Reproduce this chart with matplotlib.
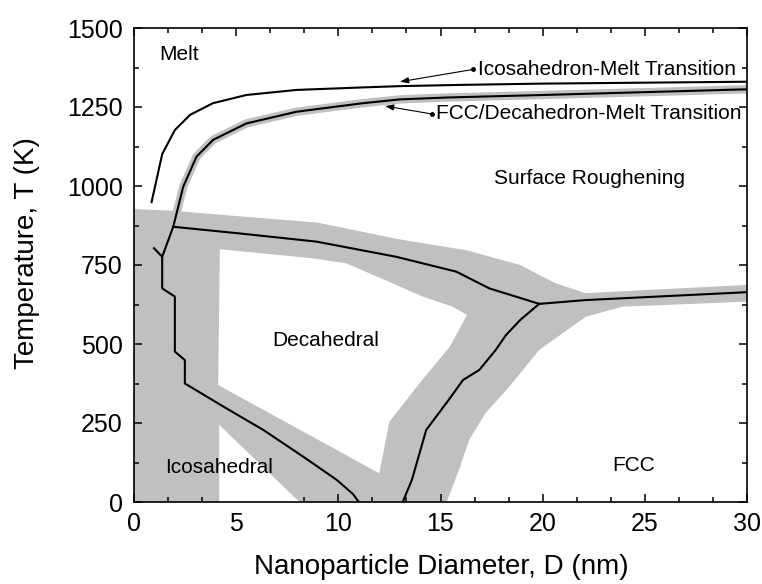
import matplotlib
matplotlib.use("Agg")
import matplotlib.pyplot as plt
from matplotlib.ticker import AutoMinorLocator

plt.rcParams['font.family'] = ['Liberation Sans', 'DejaVu Sans']

# ---------------- data (D in nm, T in K) ----------------
# Icosahedron-melt transition
ico_melt_D = [0.86, 1.38, 2.0, 2.74, 3.86, 5.5, 7.95, 11.2, 13.0, 16.0, 20.0, 25.0, 30.0]
ico_melt_T = [949, 1101, 1177, 1225, 1262, 1288, 1304, 1312, 1316, 1320, 1324, 1327, 1330]

# FCC/Decahedron-melt transition (continues down to the triple point)
fcc_melt_D = [1.38, 1.92, 2.41, 3.06, 3.87, 5.5, 7.95, 11.2, 13.0, 15.3, 20.0, 25.0, 30.0]
fcc_melt_T = [776, 871, 998, 1093, 1146, 1198, 1235, 1262, 1274, 1280, 1288, 1297, 1306]

# Icosahedral / Decahedral boundary
ico_dec_D = [0.98, 1.38, 1.38, 2.0, 2.0, 2.49, 2.49, 4.53, 6.33, 8.29, 9.92, 10.72, 11.0]
ico_dec_T = [803, 776, 676, 650, 476, 449, 375, 296, 228, 143, 70, 25, 0]

# Decahedral / Surface roughening boundary
dec_sr_D = [1.92, 5.0, 8.93, 12.83, 15.77, 17.39, 19.83]
dec_sr_T = [871, 851, 824, 776, 729, 676, 627]

# Decahedral / FCC boundary
dec_fcc_D = [13.15, 13.6, 14.3, 15.4, 16.1, 16.9, 17.7, 18.2, 18.9, 19.83]
dec_fcc_T = [0, 70, 228, 323, 386, 418, 481, 528, 576, 627]

# FCC / Surface roughening boundary
fcc_sr_D = [19.83, 22.1, 30.0]
fcc_sr_T = [627, 639, 664]

# Uncertainty (gray) region outline
gray_D = [0, 1.8, 5.0, 9.0, 13.0, 16.25, 18.9, 20.6, 22.1, 30.0, 30.0, 23.9, 22.1,
          19.83, 18.37, 17.2, 16.4, 15.9, 15.3, 0]
gray_T = [927, 922, 905, 884, 831, 797, 750, 693, 661, 687, 634, 618, 586,
          481, 365, 281, 196, 101, 0, 0]

# White (certain) decahedral area inside gray region
dec_white_D = [4.2, 4.12, 12.0, 12.5, 14.1, 15.45, 16.3, 15.6, 14.13, 12.83, 10.4, 8.76]
dec_white_T = [800, 370, 91, 254, 386, 491, 592, 618, 650, 687, 755, 771]

# White (certain) icosahedral area inside gray region
ico_white_D = [4.17, 4.17, 8.1]
ico_white_T = [0, 244, 0]

region_labels = ["Melt", "Surface Roughening", "Decahedral", "Icosahedral", "FCC"]
region_D = [1.22, 22.27, 9.39, 4.17, 24.47]
region_T = [1416, 1025, 510, 110, 117]
region_ha = ["left", "center", "center", "center", "center"]

ann_texts = ["Icosahedron-Melt Transition", "FCC/Decahedron-Melt Transition"]
ann_tail_D = [16.61, 14.57]
ann_tail_T = [1369, 1228]
ann_head_D = [13.02, 12.29]
ann_head_T = [1330, 1253]

x_ticks = [0, 5, 10, 15, 20, 25, 30]
y_ticks = [0, 250, 500, 750, 1000, 1250, 1500]

# ---------------- figure ----------------
fig = plt.figure(figsize=(7.62, 5.84), dpi=100)
ax = fig.add_axes([134 / 762, 1 - 502 / 584, (747 - 134) / 762, (502 - 28) / 584])

gray = '#c0c0c0'
ax.fill(gray_D, gray_T, color=gray, lw=0, zorder=1)
ax.fill(dec_white_D, dec_white_T, color='white', lw=0, zorder=2)
ax.fill(ico_white_D, ico_white_T, color='white', lw=0, zorder=2)
ax.plot(fcc_melt_D, fcc_melt_T, color=gray, lw=6, solid_capstyle='butt', zorder=2.5)

lines = [(ico_melt_D, ico_melt_T), (fcc_melt_D, fcc_melt_T), (ico_dec_D, ico_dec_T),
         (dec_sr_D, dec_sr_T), (dec_fcc_D, dec_fcc_T), (fcc_sr_D, fcc_sr_T)]
for d, t in lines:
    ax.plot(d, t, color='black', lw=1.5, zorder=3, solid_joinstyle='round')

for lab, d, t, ha in zip(region_labels, region_D, region_T, region_ha):
    ax.text(d, t, lab, fontsize=15, ha=ha, va='center', zorder=5)

for txt, td, tt, hd, ht in zip(ann_texts, ann_tail_D, ann_tail_T, ann_head_D, ann_head_T):
    ax.annotate('', xy=(hd, ht), xytext=(td, tt),
                arrowprops=dict(arrowstyle='-|>,head_length=0.5,head_width=0.18',
                                color='black', lw=0.8, shrinkA=0, shrinkB=0), zorder=5)
    ax.plot([td], [tt], 'o', color='black', ms=2.5, zorder=5)
    ax.text(td + 0.22, tt, txt, fontsize=15, ha='left', va='center', zorder=5)

ax.set_xlim(0, 30)
ax.set_ylim(0, 1500)
ax.set_xticks(x_ticks)
ax.set_yticks(y_ticks)
ax.xaxis.set_minor_locator(AutoMinorLocator(3))
ax.yaxis.set_minor_locator(AutoMinorLocator(2))
ax.tick_params(which='both', direction='in', top=True, right=True, width=1.1)
ax.tick_params(which='major', length=6, labelsize=18)
ax.tick_params(axis='y', which='major', pad=8)
ax.tick_params(axis='x', which='major', pad=7)
ax.tick_params(which='minor', length=3.5)
for s in ax.spines.values():
    s.set_linewidth(1.2)

fig.text(441 / 762, 1 - 567 / 584, "Nanoparticle Diameter, D (nm)", fontsize=20,
         ha='center', va='center')
fig.text(27 / 762, 1 - 253 / 584, "Temperature, T (K)", fontsize=20,
         ha='center', va='center', rotation=90)

fig.savefig("out.png", dpi=100)
